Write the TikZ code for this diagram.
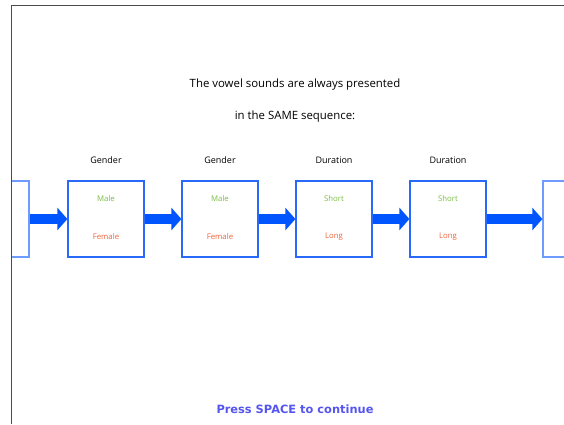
\documentclass[tikz,border=0pt]{standalone}
\usepackage{fontspec}
\setmainfont{Open Sans}
\newfontfamily\pressfont{DejaVu Sans}
\usetikzlibrary{arrows.meta}
\definecolor{flowblue}{RGB}{0,85,255}
\definecolor{boxblue}{RGB}{40,105,250}
\definecolor{fadeblue}{RGB}{110,155,255}
\definecolor{upgreen}{RGB}{120,188,65}
\definecolor{dnred}{RGB}{238,98,58}
\definecolor{pressblue}{RGB}{85,85,240}
\begin{document}
\begin{tikzpicture}[x=1pt,y=-1pt,font=\fontsize{11.4}{13}\selectfont,
    stagebox/.style={draw=boxblue,line width=1.2pt,minimum size=76pt,inner sep=0pt},
    heading/.style={font=\fontsize{9}{11}\selectfont},
    choice/.style={font=\fontsize{7.8}{9}\selectfont},
    flow/.style={draw=flowblue,line width=10pt,-{Triangle[length=10pt,width=22pt]}}]
    \useasboundingbox (0,0) rectangle (564,424);
    \node (title1) at (295,85) {The vowel sounds are always presented};
    \node (title2) at (295,117) {in the SAME sequence:};
    \begin{scope}
        \clip (11,0) rectangle (564,424);
        \node[stagebox,draw=fadeblue] (box0) at (-9,219) {};
        \node[stagebox,draw=fadeblue] (box5) at (581,219) {};
        \foreach \i/\x/\head/\ua/\ub in {1/106/Gender/Male/Female,2/220/Gender/Male/Female,
            3/334/Duration/Short/Long,4/448/Duration/Short/Long}{
            \node[stagebox] (box\i) at (\x,219) {};
            \node[heading] (head\i) at (\x,160) {\head};
            \node[choice,text=upgreen] (up\i) at (\x,199) {\ua};
            \node[choice,text=dnred] (dn\i) at (\x,237) {\ub};
        }
        \foreach \a/\b in {0/1,1/2,2/3,3/4,4/5}
            \draw[flow] (box\a.east) -- (box\b.west);
    \end{scope}
    % frame
    \draw[black!70,line width=0.9pt] (564,5) -- (11,5) -- (11,424);
    \node[font=\pressfont\fontsize{11.4}{13}\selectfont\bfseries,text=pressblue] (press) at (295,409) {Press SPACE to continue};
\end{tikzpicture}
\end{document}
